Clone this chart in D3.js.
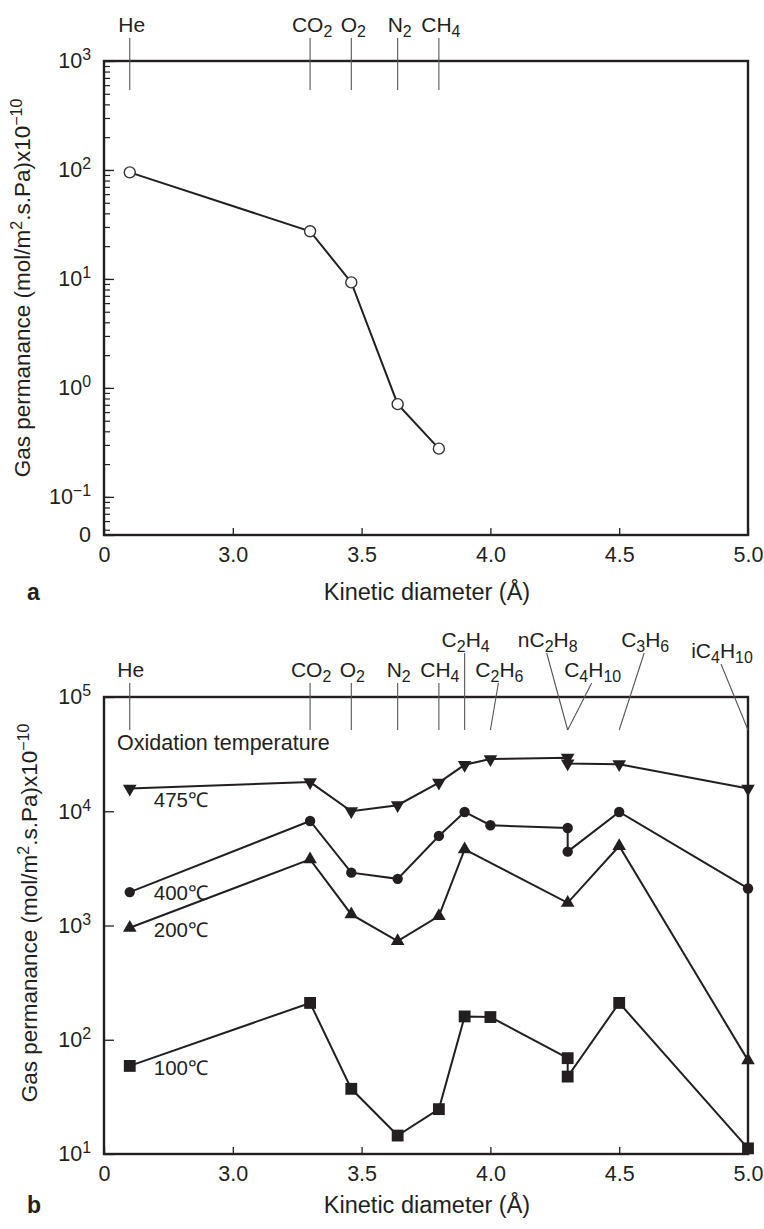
<!DOCTYPE html>
<html>
<head>
<meta charset="utf-8">
<script src="https://cdn.jsdelivr.net/npm/d3@7"></script>
<style>
  body { margin: 0; background: #fff; }
  text { fill: #231f20; font-family: "Liberation Sans", Arial, sans-serif; }
</style>
</head>
<body>
<svg id="fig" width="764" height="1229"></svg>
<script>
// panel a: permeance of single gases
var gasesA = ["He", "CO2", "O2", "N2", "CH4"];
var diamA = [2.6, 3.3, 3.46, 3.64, 3.8];
var permA = [95, 27.4, 9.3, 0.71, 0.277];

// panel b: gases and their kinetic diameters (two gases share 4.3)
var gasesB = ["He", "CO2", "O2", "N2", "CH4", "C2H4", "C2H6", "nC2H8", "C4H10", "C3H6", "iC4H10"];
var gasDiamB = [2.6, 3.3, 3.46, 3.64, 3.8, 3.9, 4.0, 4.3, 4.3, 4.5, 5.0];

// panel b series, one per oxidation temperature
var diam475 = [2.6, 3.3, 3.46, 3.64, 3.8, 3.9, 4.0, 4.3, 4.3, 4.5, 5.0];
var perm475 = [15800, 18000, 10000, 11300, 17800, 25500, 28600, 29400, 26200, 25800, 15800];
var diam400 = [2.6, 3.3, 3.46, 3.64, 3.8, 3.9, 4.0, 4.3, 4.3, 4.5, 5.0];
var perm400 = [1960, 8220, 2900, 2560, 6080, 9860, 7540, 7140, 4430, 9860, 2110];
var diam200 = [2.6, 3.3, 3.46, 3.64, 3.8, 3.9, 4.3, 4.5, 5.0];
var perm200 = [955, 3790, 1250, 730, 1210, 4640, 1580, 4960, 66];
var diam100 = [2.6, 3.3, 3.46, 3.64, 3.8, 3.9, 4.0, 4.3, 4.3, 4.5, 5.0];
var perm100 = [59, 210, 37.2, 14.5, 24.7, 160, 158, 69, 47.6, 210, 11.2];
var seriesNames = ["475℃", "400℃", "200℃", "100℃"];

// tick values and labels (the axes are broken: first tick reads "0")
var xTicks = [2.5, 3.0, 3.5, 4.0, 4.5, 5.0];
var xTickLabels = ["0", "3.0", "3.5", "4.0", "4.5", "5.0"];
var yTicksA = [0.0447, 0.1, 1, 10, 100, 1000];
var yTickLabelsA = ["0", "10^−1", "10^0", "10^1", "10^2", "10^3"];
var yTicksB = [10, 100, 1000, 10000, 100000];
var yTickLabelsB = ["10^1", "10^2", "10^3", "10^4", "10^5"];

var ink = "#231f20";
var svg = d3.select("#fig");
svg.append("rect").attr("width", 764).attr("height", 1229).attr("fill", "#fff");

var x = d3.scaleLinear().domain([2.5, 5.0]).range([104, 748]);
var yA = d3.scaleLog().domain([yTicksA[0], 1000]).range([535, 61]);
var yB = d3.scaleLog().domain([10, 100000]).range([1154, 697]);

// writes "CO2" as CO with a subscript 2
function formula(sel, s, size) {
    var parts = s.match(/\d+|\D+/g);
    var down = 0;
    parts.forEach(function(p) {
        var isNum = /\d/.test(p);
        var shift = isNum ? 5 : 0;
        sel.append("tspan")
            .attr("dy", shift - down)
            .attr("font-size", isNum ? size * 0.76 : size)
            .text(p);
        down = shift;
    });
}

// writes "10^3" with a raised exponent
function power(sel, s, size) {
    var parts = s.split("^");
    sel.text(null);
    sel.append("tspan").text(parts[0]);
    if (parts.length > 1) {
        sel.append("tspan")
            .attr("dy", -8)
            .attr("font-size", size * 0.74)
            .text(parts[1]);
    }
}

function drawXAxis(y0) {
    var g = svg.append("g")
        .attr("transform", "translate(0," + y0 + ")")
        .call(d3.axisBottom(x)
            .tickValues(xTicks)
            .tickFormat((d, i) => xTickLabels[i])
            .tickSize(-7)
            .tickPadding(12));
    g.select(".domain").remove();
    g.selectAll(".tick line").attr("stroke", ink).attr("stroke-width", 1.3);
    g.selectAll(".tick text").attr("font-size", 21.5).attr("fill", ink)
        .style("font-family", "'Liberation Sans', Arial, sans-serif");
}

function drawYAxis(y, ticks, labels, minor) {
    if (minor) {
        var m = svg.append("g")
            .attr("transform", "translate(104,0)")
            .call(d3.axisLeft(y).tickValues(y.ticks()).tickSize(-6).tickFormat(""));
        m.select(".domain").remove();
        m.selectAll(".tick line").attr("stroke", ink).attr("stroke-width", 1.2);
    }
    var g = svg.append("g")
        .attr("transform", "translate(104,0)")
        .call(d3.axisLeft(y)
            .tickValues(ticks)
            .tickFormat((d, i) => labels[i])
            .tickSize(-10)
            .tickPadding(13));
    g.select(".domain").remove();
    g.selectAll(".tick line").attr("stroke", ink).attr("stroke-width", 1.3);
    g.selectAll(".tick text")
        .attr("font-size", 21.5).attr("fill", ink)
        .style("font-family", "'Liberation Sans', Arial, sans-serif")
        .each(function(d, i) { power(d3.select(this), labels[i], 21.5); });
}

function drawFrame(y) {
    svg.append("rect")
        .attr("x", x.range()[0])
        .attr("y", y.range()[1])
        .attr("width", x.range()[1] - x.range()[0])
        .attr("height", y.range()[0] - y.range()[1])
        .attr("fill", "none")
        .attr("stroke", ink)
        .attr("stroke-width", 2.4);
}

function drawYTitle(cx, cy) {
    var t = svg.append("text")
        .attr("transform", "translate(" + cx + "," + cy + ") rotate(-90)")
        .attr("text-anchor", "middle")
        .attr("font-size", 22.5);
    t.append("tspan").text("Gas permanance (mol/m");
    t.append("tspan").attr("dy", -8).attr("font-size", 16).text("2");
    t.append("tspan").attr("dy", 8).text(".s.Pa)x10");
    t.append("tspan").attr("dy", -8).attr("font-size", 16).text("−10");
}

function drawXTitle(y0, letter) {
    svg.append("text")
        .attr("x", 427).attr("y", y0)
        .attr("text-anchor", "middle")
        .attr("font-size", 23.5)
        .text("Kinetic diameter (Å)");
    svg.append("text")
        .attr("x", 27).attr("y", y0)
        .attr("font-size", 23)
        .attr("font-weight", "bold")
        .text(letter);
}

var lineMaker = (y) => d3.line().x(d => x(d[0])).y(d => y(d[1]));

// ---------------- panel a ----------------
drawYAxis(yA, yTicksA, yTickLabelsA, true);
drawXAxis(535);
drawFrame(yA);
drawYTitle(30, 288);
drawXTitle(600, "a");

var topA = svg.append("g");
topA.selectAll("line")
    .data(gasesA)
    .enter()
    .append("line")
    .attr("x1", (d, i) => x(diamA[i]))
    .attr("x2", (d, i) => x(diamA[i]))
    .attr("y1", 38)
    .attr("y2", 90)
    .attr("stroke", "#555")
    .attr("stroke-width", 1.1);
topA.selectAll("text")
    .data(gasesA)
    .enter()
    .append("text")
    .attr("x", (d, i) => x(diamA[i]) + 2)
    .attr("y", 32)
    .attr("text-anchor", "middle")
    .attr("font-size", 21)
    .each(function(d) { formula(d3.select(this), d, 21); });

var ptsA = diamA.map((d, i) => [d, permA[i]]);
svg.append("path")
    .attr("fill", "none")
    .attr("stroke", ink)
    .attr("stroke-width", 2)
    .attr("d", lineMaker(yA)(ptsA));
svg.append("g")
    .selectAll("circle")
    .data(ptsA)
    .enter()
    .append("circle")
    .attr("r", 5.5)
    .attr("fill", "#fff")
    .attr("stroke", "#333")
    .attr("stroke-width", 1.4)
    .attr("cx", d => x(d[0]))
    .attr("cy", d => yA(d[1]));

// ---------------- panel b ----------------
drawYAxis(yB, yTicksB, yTickLabelsB, false);
drawXAxis(1154);
drawFrame(yB);
drawYTitle(37, 913);
drawXTitle(1213, "b");

// label placement above the frame: lift above first row, sideways offset of the text
var labelLift = [0, 0, 0, 0, 0, 30, 0, 30, 0, 30, 19];
var labelShift = [0, 0, 0, 0, 0, 0, 8, -21, 24, 25, -27];
var rowBase = 677;

var topB = svg.append("g");
topB.selectAll("line")
    .data(gasesB)
    .enter()
    .append("line")
    .attr("x1", (d, i) => x(gasDiamB[i]) + labelShift[i])
    .attr("x2", (d, i) => x(gasDiamB[i]))
    .attr("y1", (d, i) => rowBase + 6 - labelLift[i])
    .attr("y2", 730)
    .attr("stroke", "#555")
    .attr("stroke-width", 1.1);
topB.selectAll("text")
    .data(gasesB)
    .enter()
    .append("text")
    .attr("x", (d, i) => x(gasDiamB[i]) + labelShift[i] + 1)
    .attr("y", (d, i) => rowBase - labelLift[i])
    .attr("text-anchor", "middle")
    .attr("font-size", 21)
    .each(function(d) { formula(d3.select(this), d, 21); });

svg.append("text")
    .attr("x", 117).attr("y", 750)
    .attr("font-size", 21.5)
    .text("Oxidation temperature");

var seriesB = [
    { name: seriesNames[0], pts: diam475.map((d, i) => [d, perm475[i]]), mark: "down", dy: 18 },
    { name: seriesNames[1], pts: diam400.map((d, i) => [d, perm400[i]]), mark: "circle", dy: 8 },
    { name: seriesNames[2], pts: diam200.map((d, i) => [d, perm200[i]]), mark: "up", dy: 9 },
    { name: seriesNames[3], pts: diam100.map((d, i) => [d, perm100[i]]), mark: "square", dy: 9 }
];

var symbolOf = {
    down: d3.symbol().type(d3.symbolTriangle).size(80),
    up: d3.symbol().type(d3.symbolTriangle).size(80),
    circle: d3.symbol().type(d3.symbolCircle).size(85),
    square: d3.symbol().type(d3.symbolSquare).size(140)
};

seriesB.forEach(function(s) {
    svg.append("path")
        .attr("fill", "none")
        .attr("stroke", ink)
        .attr("stroke-width", 2)
        .attr("d", lineMaker(yB)(s.pts));

    svg.append("g")
        .selectAll("path")
        .data(s.pts)
        .enter()
        .append("path")
        .attr("d", symbolOf[s.mark]())
        .attr("fill", ink)
        .attr("transform", d => "translate(" + x(d[0]) + "," + yB(d[1]) + ")" +
            (s.mark == "down" ? " rotate(180)" : ""));

    svg.append("text")
        .attr("x", x(s.pts[0][0]) + 24)
        .attr("y", yB(s.pts[0][1]) + s.dy)
        .attr("font-size", 20.5)
        .text(s.name);
});
</script>
</body>
</html>
